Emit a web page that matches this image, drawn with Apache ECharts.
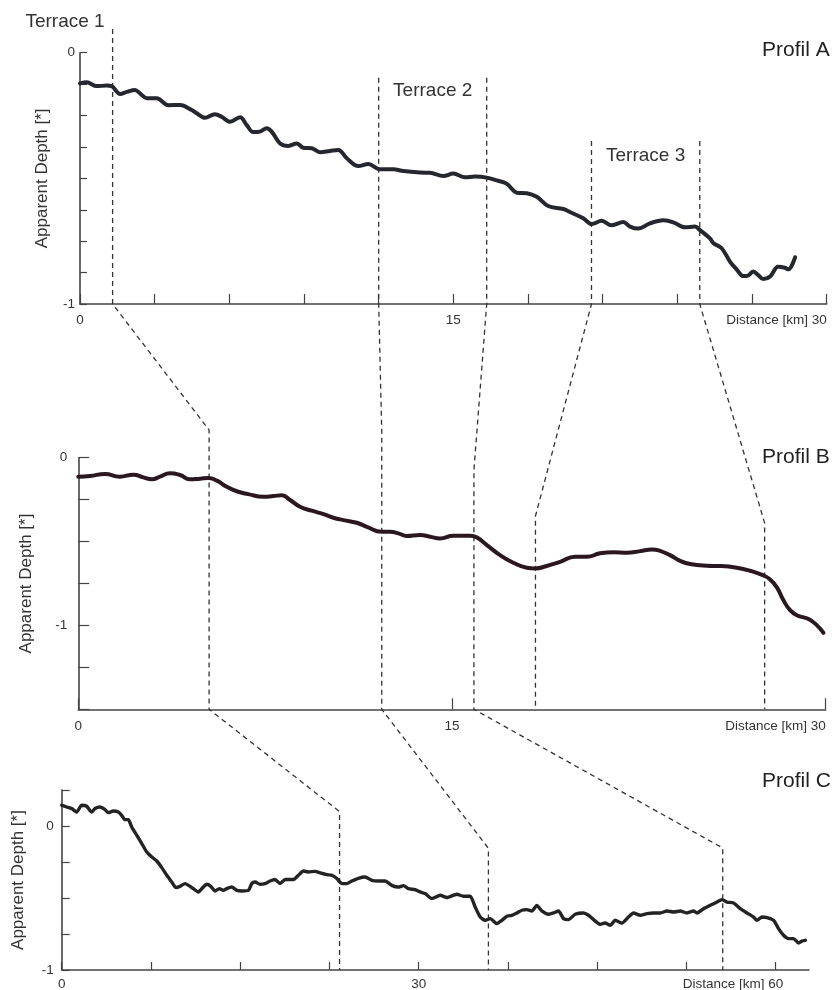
<!DOCTYPE html>
<html>
<head>
<meta charset="utf-8">
<script src="https://cdn.jsdelivr.net/npm/echarts@6/dist/echarts.min.js"></script>
<style>
  html, body { margin: 0; padding: 0; background: #fff; }
  #chart { width: 840px; height: 990px; }
</style>
</head>
<body>
<div id="chart"></div>
<script>
// ---- Profile A: distance (km) and apparent depth ----
const distA = [0,0.27,0.67,1.07,1.27,1.61,1.88,2.21,2.41,2.68,
  3.08,3.55,4.02,4.49,4.69,5.02,5.42,5.69,6.03,6.43,
  6.70,6.96,7.23,7.50,7.70,8.04,8.37,8.71,8.97,9.31,
  9.64,10.04,10.38,10.72,11.18,11.58,12.05,12.59,12.99,13.66,
  14.06,14.60,15.00,15.47,15.87,16.34,16.74,17.14,17.55,17.95,
  18.35,18.81,19.42,19.75,20.22,20.56,20.96,21.36,21.83,22.10,
  22.43,22.90,23.44,23.84,24.31,24.71,24.91,25.31,25.45,25.78,
  26.12,26.38,26.65,26.79,27.05,27.25,27.45,27.72,28.05,28.32,
  28.46,28.73];
const depthA = [-0.122,-0.118,-0.133,-0.131,-0.133,-0.164,-0.156,-0.148,-0.162,-0.181,
  -0.181,-0.209,-0.208,-0.228,-0.241,-0.259,-0.245,-0.255,-0.275,-0.257,
  -0.288,-0.316,-0.314,-0.301,-0.314,-0.361,-0.371,-0.361,-0.378,-0.380,
  -0.396,-0.391,-0.387,-0.420,-0.451,-0.443,-0.464,-0.464,-0.471,-0.477,
  -0.478,-0.491,-0.481,-0.496,-0.493,-0.497,-0.508,-0.521,-0.557,-0.559,
  -0.573,-0.610,-0.622,-0.637,-0.659,-0.682,-0.669,-0.687,-0.674,-0.692,
  -0.700,-0.679,-0.667,-0.675,-0.695,-0.692,-0.706,-0.739,-0.758,-0.778,
  -0.832,-0.862,-0.889,-0.889,-0.871,-0.885,-0.901,-0.891,-0.852,-0.856,
  -0.862,-0.814];

// ---- Profile B ----
const distB = [0,0.47,1.07,1.67,2.21,2.61,2.95,3.28,3.68,4.08,
  4.48,4.89,5.22,5.56,5.96,6.36,6.82,7.43,7.83,8.17,
  8.50,8.90,9.37,9.84,10.24,10.64,11.18,11.58,12.18,12.51,
  12.85,13.18,13.72,14.12,14.52,15.05,15.72,15.99,16.40,16.93,
  17.46,18.00,18.33,18.80,19.34,19.94,20.41,20.94,21.48,22.02,
  22.55,23.02,23.35,23.75,24.16,24.56,25.23,25.76,26.43,26.97,
  27.50,27.77,28.04,28.30,28.57,28.84,29.31,29.64,29.91];
const depthB = [-0.113,-0.109,-0.097,-0.113,-0.101,-0.117,-0.129,-0.113,-0.093,-0.103,
  -0.129,-0.125,-0.121,-0.137,-0.173,-0.200,-0.217,-0.233,-0.229,-0.224,
  -0.252,-0.292,-0.316,-0.336,-0.358,-0.372,-0.388,-0.412,-0.442,-0.442,
  -0.451,-0.467,-0.461,-0.471,-0.481,-0.465,-0.465,-0.475,-0.521,-0.581,
  -0.626,-0.656,-0.660,-0.646,-0.621,-0.591,-0.591,-0.570,-0.563,-0.567,
  -0.557,-0.547,-0.555,-0.581,-0.615,-0.634,-0.644,-0.646,-0.656,-0.674,
  -0.702,-0.726,-0.773,-0.849,-0.909,-0.939,-0.962,-0.998,-1.044];

// ---- Profile C ----
const distC = [0,0.42,0.84,1.26,1.68,2.10,2.52,2.80,3.22,3.64,
  3.92,4.34,4.76,5.04,5.32,5.60,5.88,6.31,6.73,7.15,
  7.57,7.99,8.41,8.83,9.25,9.61,9.94,10.37,10.79,11.06,
  11.48,11.85,12.19,12.53,12.89,13.25,13.59,13.87,14.29,14.71,
  15.13,15.69,15.97,16.25,16.67,17.09,17.51,17.93,18.35,18.77,
  19.19,19.47,19.89,20.31,20.73,21.29,21.72,22.28,22.70,23.12,
  23.54,23.96,24.38,24.93,25.50,26.06,26.62,27.18,27.74,28.30,
  28.72,29.14,29.70,30.12,30.54,31.11,31.80,32.37,33.21,33.76,
  34.33,34.75,35.17,35.59,36.01,36.57,36.99,37.41,37.83,38.25,
  38.67,39.09,39.51,39.93,40.35,40.91,41.33,41.75,42.17,42.59,
  43.15,43.85,44.27,44.69,45.25,45.67,46.10,46.52,47.08,47.63,
  48.05,48.62,49.18,49.74,50.30,50.86,51.42,51.98,52.54,53.10,
  53.38,53.94,54.50,55.07,55.49,55.91,56.46,57.02,57.59,58.14,
  58.43,58.85,59.27,59.82,60.24,60.66,61.08,61.50,61.93,62.21,
  62.49];
const depthC = [0.144,0.132,0.121,0.097,0.144,0.137,0.097,0.121,0.132,0.114,
  0.093,0.104,0.097,0.074,0.044,0.044,-0.007,-0.065,-0.122,-0.181,
  -0.215,-0.243,-0.289,-0.342,-0.389,-0.428,-0.419,-0.400,-0.419,-0.435,
  -0.458,-0.428,-0.405,-0.419,-0.451,-0.435,-0.447,-0.435,-0.424,-0.447,
  -0.451,-0.447,-0.400,-0.389,-0.405,-0.400,-0.382,-0.372,-0.400,-0.372,
  -0.372,-0.372,-0.342,-0.313,-0.319,-0.315,-0.326,-0.338,-0.342,-0.365,
  -0.400,-0.400,-0.382,-0.363,-0.354,-0.377,-0.382,-0.382,-0.412,-0.424,
  -0.414,-0.435,-0.442,-0.458,-0.469,-0.504,-0.481,-0.497,-0.474,-0.488,
  -0.488,-0.563,-0.632,-0.655,-0.643,-0.678,-0.655,-0.627,-0.620,-0.604,
  -0.585,-0.581,-0.590,-0.551,-0.590,-0.613,-0.604,-0.590,-0.643,-0.650,
  -0.613,-0.604,-0.620,-0.650,-0.683,-0.674,-0.690,-0.655,-0.674,-0.632,
  -0.604,-0.620,-0.608,-0.604,-0.604,-0.590,-0.597,-0.590,-0.604,-0.590,
  -0.604,-0.574,-0.551,-0.528,-0.511,-0.528,-0.535,-0.574,-0.604,-0.632,
  -0.655,-0.632,-0.636,-0.655,-0.713,-0.759,-0.782,-0.782,-0.813,-0.799,
  -0.794];

// ---- Terrace boundaries (km) picked on each profile ----
const terraceEdgesA = [1.31, 12.0, 16.34, 20.55, 24.9];
const terraceEdgesB = [5.25, 12.18, 15.88, 18.35, 27.55];
const terraceEdgesC = [23.35, 35.86, 55.55];
const terraceNames = ['Terrace 1', 'Terrace 2', 'Terrace 3'];
const profileNames = ['Profil A', 'Profil B', 'Profil C'];

// ---- Ticks and tick labels ----
const xTicksA = [0, 3, 6, 9, 12, 15, 18, 21, 24, 27, 30];
const xLabelsA = [0, 15, 30];
const yTicksA = [0, -0.125, -0.25, -0.375, -0.5, -0.625, -0.75, -0.875, -1];
const yLabelsA = [0, -1];
const xTicksB = [0, 15, 30];
const xLabelsB = [0, 15, 30];
const yTicksB = [0, -0.25, -0.5, -0.75, -1, -1.25, -1.5];
const yLabelsB = [0, -1];
const xTicksC = [0, 7.5, 15, 22.5, 30, 37.5, 45, 52.5, 60];
const xLabelsC = [0, 30, 60];
const yTicksC = [0.25, 0, -0.25, -0.5, -0.75, -1];
const yLabelsC = [0, -1];

const FONT = '"Liberation Sans", Arial, Helvetica, sans-serif';
const INK = '#333';
const AXIS = '#444';
const LABEL_SIZE = 13.5;

function measure(text, size) {
  const ctx = document.createElement('canvas').getContext('2d');
  ctx.font = size + 'px ' + FONT;
  return ctx.measureText(text).width;
}
const distanceWord = 'Distance [km] ';
const wDistWord = measure(distanceWord, LABEL_SIZE);

function pairs(xs, ys) { return xs.map((x, i) => [x, ys[i]]); }

function xAxis(gridIndex, max, ticks, labels, tickLen, margin, lastValue, centredLast) {
  return {
    gridIndex, type: 'value', min: 0, max,
    axisLine: { show: true, onZero: false, lineStyle: { color: AXIS, width: 1.6 } },
    axisTick: { show: true, inside: true, length: tickLen, customValues: ticks,
                lineStyle: { color: AXIS, width: 1.2 } },
    axisLabel: {
      customValues: labels, margin, fontSize: LABEL_SIZE, color: INK, fontFamily: FONT,
      hideOverlap: false,
      formatter: v => {
        if (v !== lastValue) return String(v);
        // distance caption sits to the left of the last value
        return centredLast
          ? '{a|' + distanceWord + '}' + v + '{p| }'
          : '{a|' + distanceWord + v + '}{q| }';
      },
      rich: {
        a: { fontSize: LABEL_SIZE, color: INK, fontFamily: FONT },
        p: { width: wDistWord },
        q: { width: measure(distanceWord + lastValue, LABEL_SIZE) }
      }
    },
    splitLine: { show: false }
  };
}

function yAxis(gridIndex, min, max, ticks, labels, tickLen, margin, nameGap) {
  return {
    gridIndex, type: 'value', min, max,
    axisLine: { show: true, onZero: false, lineStyle: { color: AXIS, width: 1.6 } },
    axisTick: { show: true, inside: true, length: tickLen, customValues: ticks,
                lineStyle: { color: AXIS, width: 1.2 } },
    axisLabel: { customValues: labels, margin, fontSize: LABEL_SIZE, color: INK, fontFamily: FONT,
                 formatter: v => String(v) },
    splitLine: { show: false },
    name: 'Apparent Depth [*]', nameLocation: 'middle', nameGap,
    nameTextStyle: { fontSize: 17, color: INK, fontFamily: FONT }
  };
}

function profileSeries(i, data, color, width, smooth) {
  return {
    type: 'line', xAxisIndex: i, yAxisIndex: i, data,
    showSymbol: false, smooth, z: 3,
    lineStyle: { color, width, cap: 'round', join: 'round' }
  };
}

const chart = echarts.init(document.getElementById('chart'), null, { renderer: 'canvas' });

const gridBase = { containLabel: false, outerBoundsMode: 'none' };

chart.setOption({
  animation: false,
  backgroundColor: '#fff',
  textStyle: { fontFamily: FONT },
  grid: [
    Object.assign({ left: 80, top: 52.7, width: 746.7, height: 251.3 }, gridBase),
    Object.assign({ left: 78.3, top: 457.7, width: 747.4, height: 251.6 }, gridBase),
    Object.assign({ left: 61.7, top: 790, width: 747.3, height: 180 }, gridBase)
  ],
  xAxis: [
    xAxis(0, 30, xTicksA, xLabelsA, 10, 9, 30, false),
    xAxis(1, 30, xTicksB, xLabelsB, 11, 10, 30, false),
    xAxis(2, 62.8, xTicksC, xLabelsC, 8, 7, 60, true)
  ],
  yAxis: [
    yAxis(0, -1, 0, yTicksA, yLabelsA, 7, 5, 29),
    yAxis(1, -1.5, 0, yTicksB, yLabelsB, 11, 11, 43),
    yAxis(2, -1, 0.25, yTicksC, yLabelsC, 8, 8, 35)
  ],
  series: [
    profileSeries(0, pairs(distA, depthA), '#25272e', 4, 0.35),
    profileSeries(1, pairs(distB, depthB), '#2a1720', 4, 0.5),
    profileSeries(2, pairs(distC, depthC), '#232323', 3.4, 0.2)
  ]
});

// ---- Dashed correlation lines linking terrace edges between profiles ----
const px = (g, x, y) => chart.convertToPixel({ gridIndex: g }, [x, y]);

// [edge index on A, on B, on C]
const links = [[0, 0, 0], [1, 1, 1], [2, 2, 2], [3, 3, null], [4, 4, null]];
const startDepthA = [0.094, -0.10, -0.10, -0.351, -0.351];
const bendDepthB = [0.165, 0.16, -0.075, -0.348, -0.39];
const bendDepthC = [0.10, -0.155, -0.153];

const graphics = [];
links.forEach((lk, i) => {
  const [a, b, c] = lk;
  const pts = [
    px(0, terraceEdgesA[a], startDepthA[i]),
    px(0, terraceEdgesA[a], -1),
    px(1, terraceEdgesB[b], bendDepthB[i]),
    px(1, terraceEdgesB[b], -1.5)
  ];
  if (c !== null) {
    pts.push(px(2, terraceEdgesC[c], bendDepthC[c]));
    pts.push(px(2, terraceEdgesC[c], -1));
  }
  graphics.push({
    type: 'polyline', z: 1, silent: true,
    shape: { points: pts },
    style: { stroke: '#333', lineWidth: 1.3, lineDash: [5, 4], fill: null }
  });
});

// ---- Terrace captions ----
const edgeX = terraceEdgesA.map(e => px(0, e, 0)[0]);
const terraceText = (text, x, y, align) => ({
  type: 'text', x, y, z: 5, silent: true,
  style: { text, fontSize: 19, fontFamily: FONT, fill: INK, align, verticalAlign: 'middle' }
});
graphics.push(terraceText(terraceNames[0], edgeX[0] - 8, 22, 'right'));
graphics.push(terraceText(terraceNames[1], (edgeX[1] + edgeX[2]) / 2, 91, 'center'));
graphics.push(terraceText(terraceNames[2], (edgeX[3] + edgeX[4]) / 2, 156, 'center'));

// ---- Profile titles ----
[50, 457.5, 781.7].forEach((y, i) => {
  graphics.push({
    type: 'text', x: 762, y, z: 5, silent: true,
    style: { text: profileNames[i], fontSize: 21, fontFamily: FONT, fill: '#222',
             align: 'left', verticalAlign: 'middle' }
  });
});

chart.setOption({ graphic: graphics });
</script>
</body>
</html>
